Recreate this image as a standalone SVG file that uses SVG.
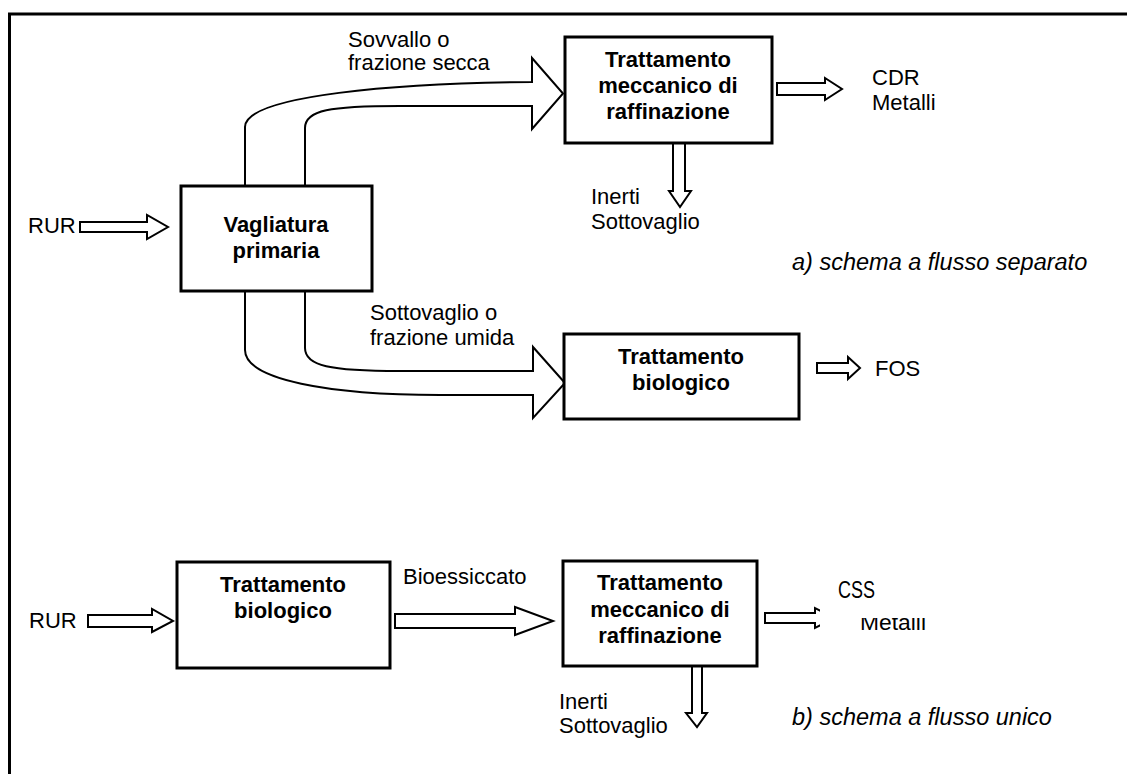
<svg xmlns="http://www.w3.org/2000/svg" width="1127" height="774" viewBox="0 0 1127 774">
<style>
  .box { fill: #fff; stroke: #000; stroke-width: 3; }
  .arr { fill: #fff; stroke: #000; stroke-width: 2; stroke-linejoin: miter; }
  .flow { fill: #fff; stroke: #000; stroke-width: 2; }
  .bl { font-family: "Liberation Sans", Arial, sans-serif; font-size: 22px; font-weight: bold; text-anchor: middle; fill: #000; }
  .lb { font-family: "Liberation Sans", Arial, sans-serif; font-size: 22px; fill: #000; }
  .cap { font-family: "Liberation Sans", Arial, sans-serif; font-size: 23.5px; font-style: italic; fill: #000; }
</style>
<rect width="1127" height="774" fill="#fff"/>
<path d="M9.5,774 V14 H1127" fill="none" stroke="#000" stroke-width="3"/>

<g id="connectors">
  <polygon class="arr" points="80,222 147,222 147,215 168,227 147,239 147,232 80,232"/>
  <path class="flow" d="M245,186 V127 C245,95 400,83 532,82 V58 L563,93.5 L532,129 V106 L400,106 C330,106 305,110 305,128 V186"/>
  <path class="flow" d="M245,291 V350 C245,380 330,395 440,395 L533,395 V418 L565,383 L533,347 V371 L400,371 C330,371 305,366 305,348 V291"/>
  <polygon class="arr" points="777,83 825,83 825,78 842,89 825,100 825,95 777,95"/>
  <polygon class="arr" points="673,143 673,191 669,191 680,207 691,191 685,191 685,143"/>
  <polygon class="arr" points="817,363 848,363 848,357 860,368 848,379 848,373 817,373"/>
  <polygon class="arr" points="88,615 152,615 152,609 173,621 152,632 152,627 88,627"/>
  <polygon class="arr" points="395,614 515,614 515,607 553,621 515,635 515,628 395,628"/>
  <polygon class="arr" points="692,666 692,713 686,713 697,727 707,713 702,713 702,666"/>
  <polygon class="arr" points="765,613 815,613 815,608 835,618 815,628 815,623 765,623"/>
</g>

<g id="node-vagliatura">
  <rect class="box" x="181" y="186" width="191" height="105"/>
  <text class="bl" x="276" y="232">Vagliatura</text>
  <text class="bl" x="276" y="258">primaria</text>
</g>
<g id="node-mecc-a">
  <rect class="box" x="565" y="37" width="207" height="106"/>
  <text class="bl" x="668" y="67">Trattamento</text>
  <text class="bl" x="668" y="93">meccanico di</text>
  <text class="bl" x="668" y="119">raffinazione</text>
</g>
<g id="node-bio-a">
  <rect class="box" x="564" y="334" width="235" height="85"/>
  <text class="bl" x="681" y="364">Trattamento</text>
  <text class="bl" x="681" y="390">biologico</text>
</g>
<g id="node-bio-b">
  <rect class="box" x="177" y="562" width="213" height="106"/>
  <text class="bl" x="283" y="592">Trattamento</text>
  <text class="bl" x="283" y="618">biologico</text>
</g>
<g id="node-mecc-b">
  <rect class="box" x="563" y="561" width="194" height="105"/>
  <text class="bl" x="660" y="590">Trattamento</text>
  <text class="bl" x="660" y="617">meccanico di</text>
  <text class="bl" x="660" y="643">raffinazione</text>
</g>

<g id="labels">
  <text class="lb" x="28" y="233">RUR</text>
  <text class="lb" x="348" y="47">Sovvallo o</text>
  <text class="lb" x="348" y="70">frazione secca</text>
  <text class="lb" x="872" y="85">CDR</text>
  <text class="lb" x="872" y="110">Metalli</text>
  <text class="lb" x="591" y="204">Inerti</text>
  <text class="lb" x="591" y="229">Sottovaglio</text>
  <text class="cap" x="792" y="270">a) schema a flusso separato</text>
  <text class="lb" x="370" y="320">Sottovaglio o</text>
  <text class="lb" x="370" y="345">frazione umida</text>
  <text class="lb" x="875" y="376">FOS</text>

  <text class="lb" x="29" y="628">RUR</text>
  <text class="lb" x="403" y="584">Bioessiccato</text>
  <text class="lb" x="559" y="709">Inerti</text>
  <text class="lb" x="559" y="733">Sottovaglio</text>
  <text class="lb" x="860" y="630" textLength="66" lengthAdjust="spacingAndGlyphs">Metalli</text>
  <rect x="820" y="600" width="38" height="36" fill="#fff"/>
  <rect x="858" y="600" width="80" height="18" fill="#fff"/>
  <text class="lb" x="838" y="598" style="font-size:23px" textLength="37" lengthAdjust="spacingAndGlyphs">CSS</text>
  <text class="cap" x="792" y="725">b) schema a flusso unico</text>
</g>
</svg>
